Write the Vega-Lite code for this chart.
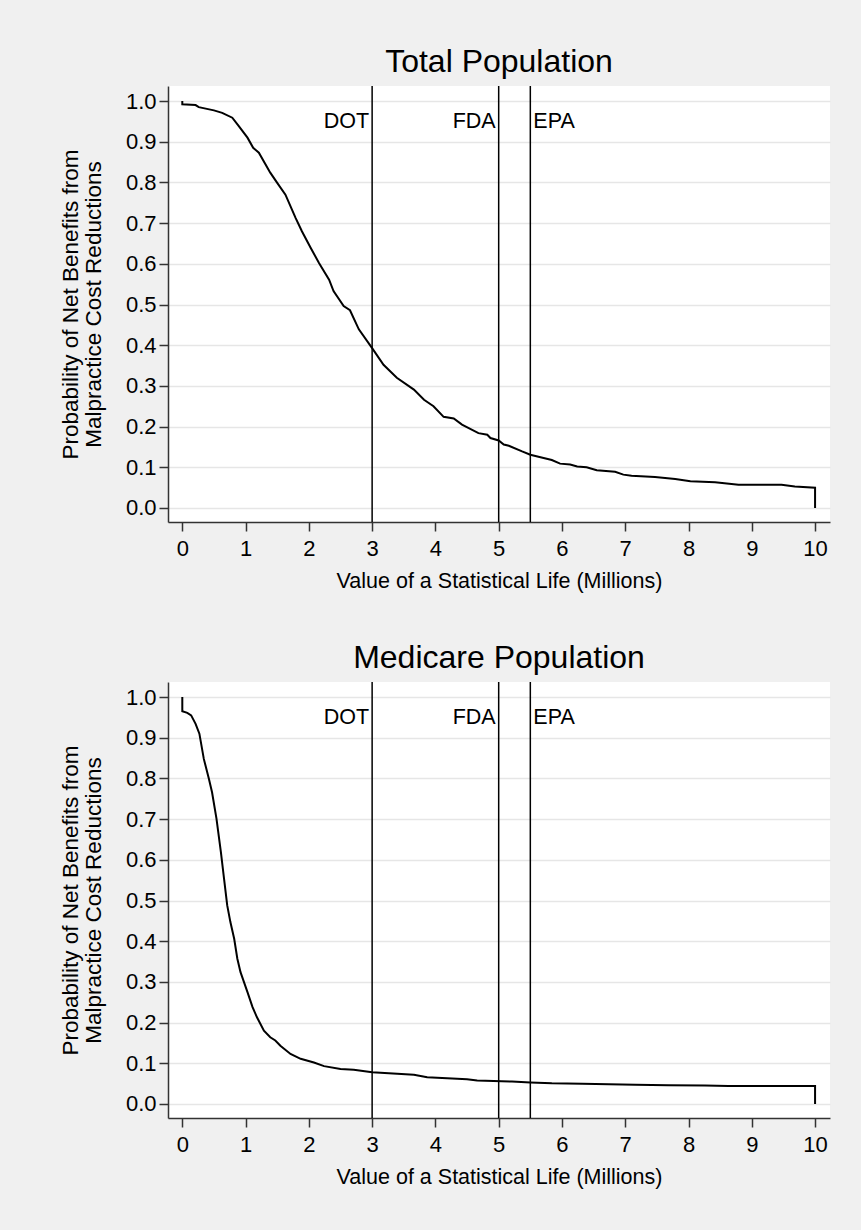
{
  "$schema": "https://vega.github.io/schema/vega-lite/v6.json",
  "background": "#f0f0f0",
  "padding": {"left": 59, "top": 46, "right": 38, "bottom": 56},
  "spacing": 50,
  "datasets": {
    "total": [
      {"i": 0, "x": 0, "p": 1.0}, {"i": 1, "x": 0, "p": 0.992}, {"i": 2, "x": 0.21, "p": 0.99}, {"i": 3, "x": 0.26, "p": 0.985},
      {"i": 4, "x": 0.5, "p": 0.977}, {"i": 5, "x": 0.63, "p": 0.971}, {"i": 6, "x": 0.79, "p": 0.959}, {"i": 7, "x": 0.89, "p": 0.939},
      {"i": 8, "x": 1.03, "p": 0.91}, {"i": 9, "x": 1.12, "p": 0.885}, {"i": 10, "x": 1.21, "p": 0.873}, {"i": 11, "x": 1.39, "p": 0.824},
      {"i": 12, "x": 1.5, "p": 0.799}, {"i": 13, "x": 1.63, "p": 0.77}, {"i": 14, "x": 1.79, "p": 0.713}, {"i": 15, "x": 1.89, "p": 0.68},
      {"i": 16, "x": 2.03, "p": 0.639}, {"i": 17, "x": 2.16, "p": 0.602}, {"i": 18, "x": 2.32, "p": 0.561}, {"i": 19, "x": 2.39, "p": 0.533},
      {"i": 20, "x": 2.55, "p": 0.496}, {"i": 21, "x": 2.65, "p": 0.486}, {"i": 22, "x": 2.79, "p": 0.439}, {"i": 23, "x": 3.0, "p": 0.393},
      {"i": 24, "x": 3.18, "p": 0.352}, {"i": 25, "x": 3.39, "p": 0.32}, {"i": 26, "x": 3.66, "p": 0.291}, {"i": 27, "x": 3.82, "p": 0.266},
      {"i": 28, "x": 3.97, "p": 0.25}, {"i": 29, "x": 4.13, "p": 0.224}, {"i": 30, "x": 4.29, "p": 0.22}, {"i": 31, "x": 4.42, "p": 0.205},
      {"i": 32, "x": 4.68, "p": 0.184}, {"i": 33, "x": 4.82, "p": 0.18}, {"i": 34, "x": 4.87, "p": 0.172}, {"i": 35, "x": 5.0, "p": 0.166},
      {"i": 36, "x": 5.08, "p": 0.156}, {"i": 37, "x": 5.16, "p": 0.153}, {"i": 38, "x": 5.37, "p": 0.139}, {"i": 39, "x": 5.5, "p": 0.131},
      {"i": 40, "x": 5.71, "p": 0.123}, {"i": 41, "x": 5.84, "p": 0.118}, {"i": 42, "x": 5.97, "p": 0.109}, {"i": 43, "x": 6.13, "p": 0.107},
      {"i": 44, "x": 6.24, "p": 0.102}, {"i": 45, "x": 6.39, "p": 0.1}, {"i": 46, "x": 6.55, "p": 0.093}, {"i": 47, "x": 6.84, "p": 0.089},
      {"i": 48, "x": 6.97, "p": 0.082}, {"i": 49, "x": 7.1, "p": 0.079}, {"i": 50, "x": 7.47, "p": 0.076}, {"i": 51, "x": 7.79, "p": 0.071},
      {"i": 52, "x": 8.03, "p": 0.066}, {"i": 53, "x": 8.42, "p": 0.063}, {"i": 54, "x": 8.79, "p": 0.057}, {"i": 55, "x": 9.47, "p": 0.057},
      {"i": 56, "x": 9.68, "p": 0.053}, {"i": 57, "x": 10.0, "p": 0.05}, {"i": 58, "x": 10.0, "p": 0.0}
    ],
    "medicare": [
      {"i": 0, "x": 0, "p": 1.0}, {"i": 1, "x": 0, "p": 0.965}, {"i": 2, "x": 0.079, "p": 0.961}, {"i": 3, "x": 0.14, "p": 0.955},
      {"i": 4, "x": 0.21, "p": 0.934}, {"i": 5, "x": 0.27, "p": 0.91}, {"i": 6, "x": 0.34, "p": 0.848}, {"i": 7, "x": 0.42, "p": 0.799},
      {"i": 8, "x": 0.47, "p": 0.766}, {"i": 9, "x": 0.54, "p": 0.701}, {"i": 10, "x": 0.61, "p": 0.619}, {"i": 11, "x": 0.66, "p": 0.553},
      {"i": 12, "x": 0.71, "p": 0.488}, {"i": 13, "x": 0.76, "p": 0.447}, {"i": 14, "x": 0.82, "p": 0.406}, {"i": 15, "x": 0.87, "p": 0.357},
      {"i": 16, "x": 0.92, "p": 0.324}, {"i": 17, "x": 1.03, "p": 0.275}, {"i": 18, "x": 1.11, "p": 0.238}, {"i": 19, "x": 1.18, "p": 0.213},
      {"i": 20, "x": 1.29, "p": 0.18}, {"i": 21, "x": 1.39, "p": 0.164}, {"i": 22, "x": 1.47, "p": 0.156}, {"i": 23, "x": 1.55, "p": 0.143},
      {"i": 24, "x": 1.71, "p": 0.123}, {"i": 25, "x": 1.87, "p": 0.111}, {"i": 26, "x": 2.08, "p": 0.102}, {"i": 27, "x": 2.24, "p": 0.093},
      {"i": 28, "x": 2.5, "p": 0.086}, {"i": 29, "x": 2.71, "p": 0.084}, {"i": 30, "x": 3.0, "p": 0.078}, {"i": 31, "x": 3.66, "p": 0.072},
      {"i": 32, "x": 3.87, "p": 0.066}, {"i": 33, "x": 4.5, "p": 0.061}, {"i": 34, "x": 4.66, "p": 0.058}, {"i": 35, "x": 5.21, "p": 0.055},
      {"i": 36, "x": 5.5, "p": 0.053}, {"i": 37, "x": 5.84, "p": 0.051}, {"i": 38, "x": 6.32, "p": 0.05}, {"i": 39, "x": 7.16, "p": 0.047},
      {"i": 40, "x": 7.68, "p": 0.046}, {"i": 41, "x": 8.26, "p": 0.0455}, {"i": 42, "x": 8.63, "p": 0.044}, {"i": 43, "x": 10.0, "p": 0.044},
      {"i": 44, "x": 10.0, "p": 0.0}
    ],
    "vlines": [
      {"v": 3, "label": "DOT", "side": "left"},
      {"v": 5, "label": "FDA", "side": "left"},
      {"v": 5.5, "label": "EPA", "side": "right"}
    ]
  },
  "vconcat": [
    {
      "width": 662, "height": 436,
      "title": {"text": "Total Population"},
      "layer": [
        {
          "data": {"name": "total"},
          "mark": {"type": "line", "color": "black", "strokeWidth": 2},
          "encoding": {
            "x": {"field": "x", "type": "quantitative", "scale": {"domain": [-0.226, 10.236], "nice": false, "zero": false}, "axis": {"values": [0,1,2,3,4,5,6,7,8,9,10], "format": "d", "grid": false}, "title": "Value of a Statistical Life (Millions)"},
            "y": {"field": "p", "type": "quantitative", "scale": {"domain": [-0.0344, 1.0369], "nice": false, "zero": false}, "axis": {"values": [0,0.1,0.2,0.3,0.4,0.5,0.6,0.7,0.8,0.9,1.0], "format": ".1f"}, "title": ["Probability of Net Benefits from", "Malpractice Cost Reductions"]},
            "order": {"field": "i", "type": "quantitative"}
          }
        },
        {
          "data": {"name": "vlines"},
          "mark": {"type": "rule", "color": "black", "strokeWidth": 1.5},
          "encoding": {"x": {"field": "v", "type": "quantitative"}}
        },
        {
          "data": {"name": "vlines"},
          "transform": [{"filter": "datum.side == 'left'"}],
          "mark": {"type": "text", "align": "right", "baseline": "alphabetic", "dx": -3, "fontSize": 21.5, "color": "black"},
          "encoding": {"x": {"field": "v", "type": "quantitative"}, "y": {"datum": 0.933}, "text": {"field": "label"}}
        },
        {
          "data": {"name": "vlines"},
          "transform": [{"filter": "datum.side == 'right'"}],
          "mark": {"type": "text", "align": "left", "baseline": "alphabetic", "dx": 3, "fontSize": 21.5, "color": "black"},
          "encoding": {"x": {"field": "v", "type": "quantitative"}, "y": {"datum": 0.933}, "text": {"field": "label"}}
        }
      ]
    },
    {
      "width": 662, "height": 436,
      "title": {"text": "Medicare Population"},
      "layer": [
        {
          "data": {"name": "medicare"},
          "mark": {"type": "line", "color": "black", "strokeWidth": 2},
          "encoding": {
            "x": {"field": "x", "type": "quantitative", "scale": {"domain": [-0.226, 10.236], "nice": false, "zero": false}, "axis": {"values": [0,1,2,3,4,5,6,7,8,9,10], "format": "d", "grid": false}, "title": "Value of a Statistical Life (Millions)"},
            "y": {"field": "p", "type": "quantitative", "scale": {"domain": [-0.0344, 1.0369], "nice": false, "zero": false}, "axis": {"values": [0,0.1,0.2,0.3,0.4,0.5,0.6,0.7,0.8,0.9,1.0], "format": ".1f"}, "title": ["Probability of Net Benefits from", "Malpractice Cost Reductions"]},
            "order": {"field": "i", "type": "quantitative"}
          }
        },
        {
          "data": {"name": "vlines"},
          "mark": {"type": "rule", "color": "black", "strokeWidth": 1.5},
          "encoding": {"x": {"field": "v", "type": "quantitative"}}
        },
        {
          "data": {"name": "vlines"},
          "transform": [{"filter": "datum.side == 'left'"}],
          "mark": {"type": "text", "align": "right", "baseline": "alphabetic", "dx": -3, "fontSize": 21.5, "color": "black"},
          "encoding": {"x": {"field": "v", "type": "quantitative"}, "y": {"datum": 0.933}, "text": {"field": "label"}}
        },
        {
          "data": {"name": "vlines"},
          "transform": [{"filter": "datum.side == 'right'"}],
          "mark": {"type": "text", "align": "left", "baseline": "alphabetic", "dx": 3, "fontSize": 21.5, "color": "black"},
          "encoding": {"x": {"field": "v", "type": "quantitative"}, "y": {"datum": 0.933}, "text": {"field": "label"}}
        }
      ]
    }
  ],
  "config": {
    "font": "Liberation Sans",
    "view": {"fill": "white", "stroke": null},
    "title": {"fontSize": 32, "fontWeight": "normal", "color": "black", "offset": 6, "font": "Liberation Sans"},
    "axis": {
      "domainColor": "#333333", "domainWidth": 1.5,
      "tickColor": "#333333", "tickSize": 9, "tickWidth": 1.5,
      "labelFontSize": 22, "labelColor": "black", "labelFont": "Liberation Sans",
      "titleFontSize": 21.5, "titleFontWeight": "normal", "titleColor": "black", "titleFont": "Liberation Sans",
      "gridColor": "#e6e6e6", "gridWidth": 1.5
    },
    "axisX": {"labelPadding": 7, "titlePadding": 11, "labelFlush": false},
    "axisY": {"labelPadding": 3, "titlePadding": 20, "titleLineHeight": 23, "titleFontSize": 22.5, "labelFlush": false}
  }
}
